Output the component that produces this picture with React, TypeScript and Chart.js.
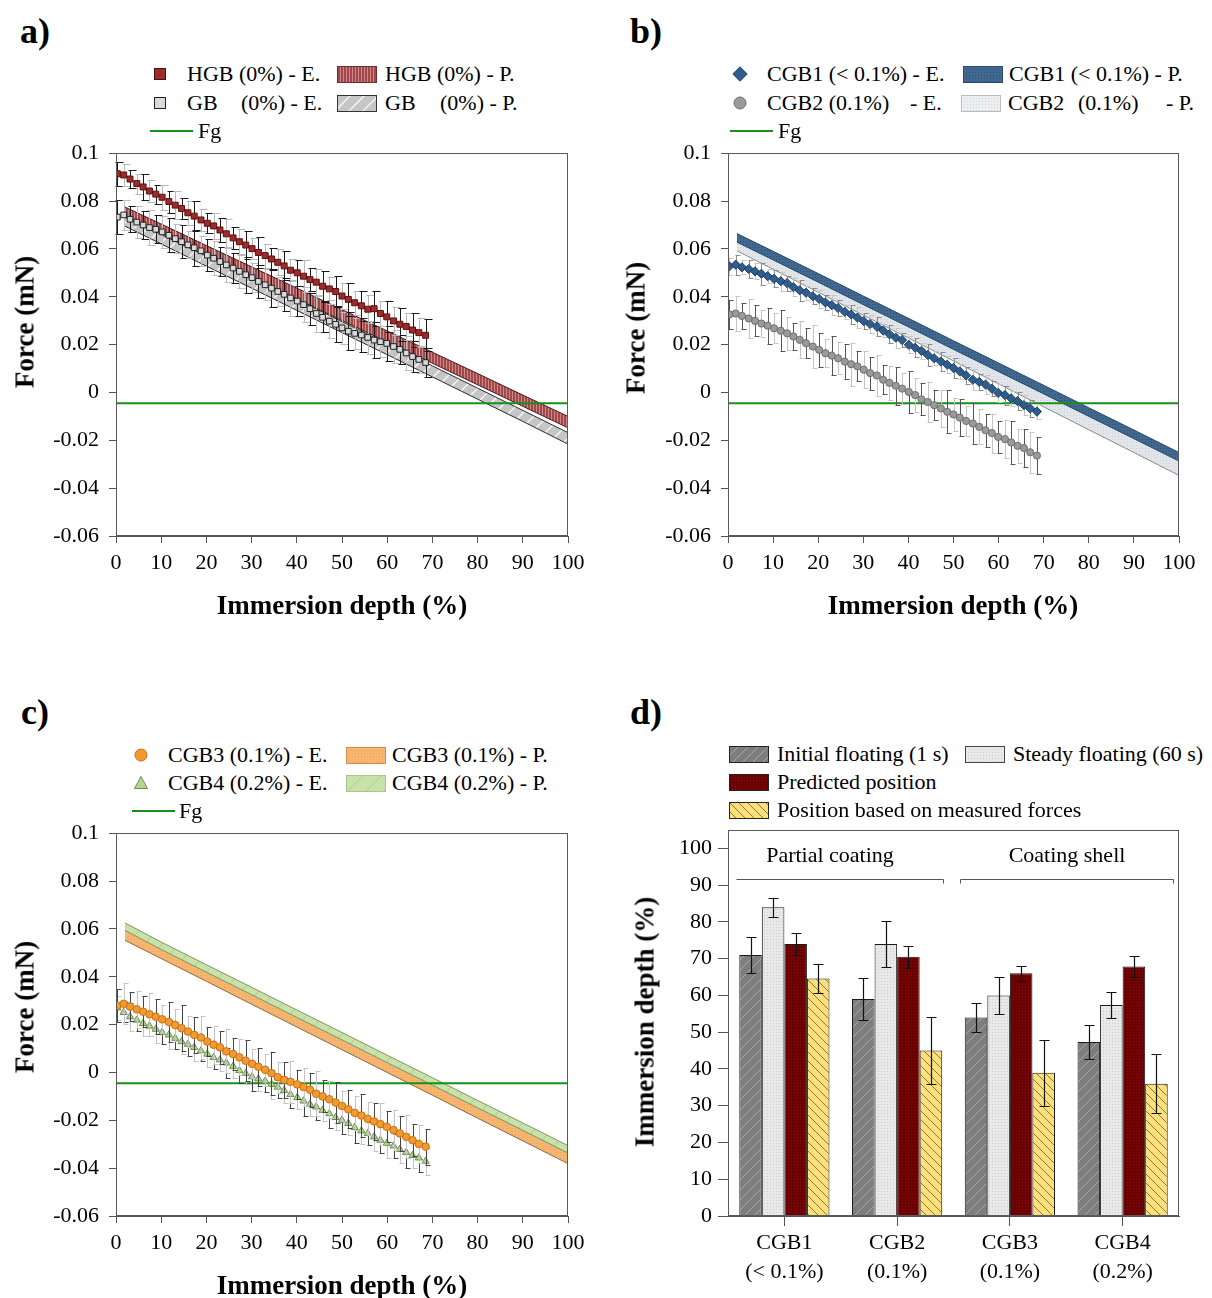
import React, { useEffect, useRef } from 'react';
import { Chart, registerables } from 'chart.js';
Chart.register(...registerables);

const FONT = "'Liberation Serif', 'Times New Roman', serif";

// ---------- Panels a, b, c: experimental points (immersion depth, %) ----------
const DEPTH = [0.3, 1.7, 3.1, 4.6, 6.0, 7.4, 8.8, 10.2, 11.7, 13.1, 14.5, 15.9, 17.3, 18.8, 20.2, 21.6, 23.0, 24.4, 25.9, 27.3, 28.7, 30.1, 31.5, 33.0, 34.4, 35.8, 37.2, 38.6, 40.1, 41.5, 42.9, 44.3, 45.7, 47.2, 48.6, 50.0, 51.4, 52.8, 54.3, 55.7, 57.1, 58.5, 59.9, 61.4, 62.8, 64.2, 65.6, 67.0, 68.5];

const HGB_E = [0.0914, 0.0909, 0.0892, 0.0873, 0.0859, 0.0842, 0.0829, 0.0816, 0.0798, 0.0783, 0.0769, 0.0751, 0.0737, 0.0721, 0.0707, 0.0696, 0.0679, 0.0663, 0.0646, 0.0630, 0.0616, 0.0601, 0.0585, 0.0572, 0.0558, 0.0544, 0.0529, 0.0511, 0.0500, 0.0486, 0.0472, 0.0461, 0.0444, 0.0433, 0.0422, 0.0403, 0.0389, 0.0375, 0.0362, 0.0348, 0.0350, 0.0330, 0.0316, 0.0299, 0.0285, 0.0276, 0.0261, 0.0250, 0.0239];
const HGB_ERR = [0.0050, 0.0045, 0.0038, 0.0042, 0.0055, 0.0048, 0.0040, 0.0052, 0.0046, 0.0058, 0.0044, 0.0050, 0.0062, 0.0047, 0.0041, 0.0056, 0.0049, 0.0060, 0.0045, 0.0052, 0.0058, 0.0043, 0.0064, 0.0050, 0.0047, 0.0055, 0.0061, 0.0046, 0.0053, 0.0068, 0.0049, 0.0057, 0.0062, 0.0048, 0.0066, 0.0055, 0.0070, 0.0051, 0.0063, 0.0058, 0.0072, 0.0054, 0.0065, 0.0060, 0.0068, 0.0057, 0.0070, 0.0062, 0.0066];
const GB_E = [0.0733, 0.0742, 0.0724, 0.0712, 0.0700, 0.0689, 0.0682, 0.0671, 0.0657, 0.0643, 0.0630, 0.0617, 0.0605, 0.0592, 0.0574, 0.0561, 0.0547, 0.0533, 0.0520, 0.0506, 0.0492, 0.0480, 0.0464, 0.0450, 0.0436, 0.0422, 0.0410, 0.0395, 0.0382, 0.0367, 0.0350, 0.0330, 0.0314, 0.0298, 0.0285, 0.0270, 0.0256, 0.0247, 0.0240, 0.0230, 0.0219, 0.0212, 0.0205, 0.0192, 0.0180, 0.0165, 0.0150, 0.0138, 0.0125];
const GB_ERR = [0.0070, 0.0062, 0.0055, 0.0068, 0.0060, 0.0074, 0.0058, 0.0066, 0.0072, 0.0061, 0.0069, 0.0057, 0.0075, 0.0063, 0.0067, 0.0071, 0.0059, 0.0073, 0.0064, 0.0068, 0.0076, 0.0060, 0.0070, 0.0065, 0.0078, 0.0062, 0.0069, 0.0074, 0.0061, 0.0072, 0.0067, 0.0079, 0.0063, 0.0070, 0.0075, 0.0066, 0.0080, 0.0064, 0.0071, 0.0068, 0.0077, 0.0065, 0.0073, 0.0069, 0.0062, 0.0070, 0.0066, 0.0058, 0.0060];

const CGB1_E = [0.0527, 0.0534, 0.0523, 0.0516, 0.0506, 0.0496, 0.0486, 0.0475, 0.0465, 0.0457, 0.0440, 0.0427, 0.0417, 0.0402, 0.0391, 0.0376, 0.0365, 0.0353, 0.0337, 0.0326, 0.0313, 0.0298, 0.0286, 0.0275, 0.0259, 0.0243, 0.0229, 0.0219, 0.0199, 0.0187, 0.0174, 0.0157, 0.0143, 0.0129, 0.0116, 0.0102, 0.0088, 0.0071, 0.0053, 0.0044, 0.0033, 0.0016, -0.0002, -0.0011, -0.0025, -0.0036, -0.0053, -0.0067, -0.0080];
const CGB1_ERR = [0.0035, 0.0042, 0.0030, 0.0038, 0.0033, 0.0045, 0.0028, 0.0036, 0.0040, 0.0031, 0.0037, 0.0043, 0.0029, 0.0034, 0.0039, 0.0032, 0.0041, 0.0035, 0.0030, 0.0038, 0.0044, 0.0033, 0.0036, 0.0040, 0.0029, 0.0037, 0.0042, 0.0031, 0.0035, 0.0039, 0.0034, 0.0045, 0.0030, 0.0038, 0.0036, 0.0041, 0.0032, 0.0037, 0.0043, 0.0035, 0.0039, 0.0031, 0.0036, 0.0040, 0.0033, 0.0038, 0.0042, 0.0035, 0.0030];
const CGB2_E = [0.0326, 0.0330, 0.0320, 0.0309, 0.0299, 0.0288, 0.0279, 0.0268, 0.0258, 0.0247, 0.0234, 0.0220, 0.0206, 0.0192, 0.0178, 0.0164, 0.0154, 0.0143, 0.0129, 0.0118, 0.0109, 0.0095, 0.0081, 0.0071, 0.0053, 0.0040, 0.0028, 0.0016, 0.0002, -0.0011, -0.0029, -0.0040, -0.0053, -0.0067, -0.0081, -0.0092, -0.0105, -0.0119, -0.0130, -0.0144, -0.0158, -0.0170, -0.0186, -0.0195, -0.0209, -0.0223, -0.0232, -0.0250, -0.0264];
const CGB2_ERR = [0.0060, 0.0072, 0.0055, 0.0080, 0.0065, 0.0058, 0.0075, 0.0062, 0.0085, 0.0068, 0.0057, 0.0078, 0.0064, 0.0088, 0.0070, 0.0059, 0.0082, 0.0066, 0.0074, 0.0090, 0.0063, 0.0077, 0.0069, 0.0085, 0.0060, 0.0072, 0.0080, 0.0065, 0.0088, 0.0071, 0.0067, 0.0083, 0.0062, 0.0076, 0.0090, 0.0068, 0.0079, 0.0064, 0.0086, 0.0073, 0.0070, 0.0082, 0.0066, 0.0078, 0.0088, 0.0072, 0.0080, 0.0085, 0.0076];

const CGB3_E = [0.0279, 0.0287, 0.0275, 0.0264, 0.0254, 0.0243, 0.0233, 0.0222, 0.0211, 0.0198, 0.0185, 0.0171, 0.0157, 0.0146, 0.0129, 0.0116, 0.0105, 0.0088, 0.0077, 0.0063, 0.0049, 0.0036, 0.0024, 0.0011, -0.0003, -0.0020, -0.0031, -0.0039, -0.0050, -0.0061, -0.0072, -0.0089, -0.0100, -0.0112, -0.0126, -0.0140, -0.0154, -0.0169, -0.0180, -0.0194, -0.0205, -0.0216, -0.0227, -0.0241, -0.0255, -0.0269, -0.0283, -0.0299, -0.0310];
const CGB3_ERR = [0.0070, 0.0085, 0.0060, 0.0078, 0.0065, 0.0090, 0.0072, 0.0058, 0.0082, 0.0068, 0.0095, 0.0063, 0.0076, 0.0088, 0.0061, 0.0080, 0.0070, 0.0092, 0.0066, 0.0075, 0.0085, 0.0060, 0.0079, 0.0068, 0.0090, 0.0064, 0.0074, 0.0087, 0.0062, 0.0081, 0.0071, 0.0094, 0.0067, 0.0078, 0.0086, 0.0063, 0.0080, 0.0072, 0.0091, 0.0069, 0.0077, 0.0088, 0.0065, 0.0083, 0.0074, 0.0090, 0.0068, 0.0080, 0.0075];
const CGB4_E = [0.0270, 0.0251, 0.0233, 0.0219, 0.0205, 0.0194, 0.0181, 0.0168, 0.0157, 0.0143, 0.0129, 0.0118, 0.0105, 0.0091, 0.0077, 0.0063, 0.0053, 0.0040, 0.0026, 0.0008, -0.0004, -0.0018, -0.0027, -0.0036, -0.0050, -0.0061, -0.0075, -0.0092, -0.0105, -0.0119, -0.0133, -0.0144, -0.0158, -0.0172, -0.0188, -0.0199, -0.0213, -0.0230, -0.0244, -0.0255, -0.0269, -0.0283, -0.0296, -0.0307, -0.0321, -0.0334, -0.0347, -0.0357, -0.0371];
const CGB4_ERR = [0.0050, 0.0042, 0.0058, 0.0045, 0.0053, 0.0040, 0.0056, 0.0047, 0.0061, 0.0044, 0.0052, 0.0048, 0.0059, 0.0043, 0.0055, 0.0050, 0.0046, 0.0062, 0.0049, 0.0054, 0.0045, 0.0058, 0.0051, 0.0047, 0.0060, 0.0044, 0.0053, 0.0057, 0.0048, 0.0063, 0.0050, 0.0055, 0.0046, 0.0061, 0.0052, 0.0058, 0.0047, 0.0064, 0.0053, 0.0049, 0.0060, 0.0055, 0.0062, 0.0051, 0.0058, 0.0065, 0.0054, 0.0060, 0.0057];

// ---------- Predicted bands (upper / lower edge) ----------
const PRED_X = [2, 10, 20, 30, 40, 50, 60, 70, 80, 90, 100];
const HGB_P_HI = [0.0775, 0.0704, 0.0614, 0.0525, 0.0436, 0.0346, 0.0257, 0.0168, 0.0079, -0.0011, -0.0100];
const HGB_P_LO = [0.0733, 0.0660, 0.0570, 0.0480, 0.0391, 0.0301, 0.0211, 0.0122, 0.0032, -0.0058, -0.0148];
const GB_P_HI = [0.0741, 0.0667, 0.0574, 0.0482, 0.0389, 0.0296, 0.0204, 0.0111, 0.0018, -0.0075, -0.0168];
const GB_P_LO = [0.0695, 0.0621, 0.0528, 0.0436, 0.0343, 0.0250, 0.0158, 0.0065, -0.0028, -0.0121, -0.0216];
const CGB1_P_HI = [0.0664, 0.0590, 0.0497, 0.0403, 0.0310, 0.0216, 0.0123, 0.0030, -0.0064, -0.0157, -0.0251];
const CGB1_P_LO = [0.0628, 0.0554, 0.0461, 0.0367, 0.0274, 0.0180, 0.0087, -0.0006, -0.0100, -0.0193, -0.0287];
const CGB2_P_HI = [0.0640, 0.0565, 0.0472, 0.0379, 0.0285, 0.0192, 0.0098, 0.0005, -0.0088, -0.0182, -0.0275];
const CGB2_P_LO = [0.0592, 0.0515, 0.0419, 0.0323, 0.0228, 0.0132, 0.0036, -0.0060, -0.0156, -0.0251, -0.0347];
const CGB3_P_HI = [0.0600, 0.0524, 0.0429, 0.0333, 0.0238, 0.0143, 0.0048, -0.0047, -0.0143, -0.0238, -0.0333];
const CGB3_P_LO = [0.0552, 0.0476, 0.0381, 0.0285, 0.0190, 0.0095, 0.0000, -0.0095, -0.0191, -0.0286, -0.0381];
const CGB4_P_HI = [0.0625, 0.0545, 0.0450, 0.0356, 0.0261, 0.0167, 0.0072, -0.0022, -0.0117, -0.0211, -0.0306];
const CGB4_P_LO = [0.0594, 0.0514, 0.0419, 0.0325, 0.0230, 0.0136, 0.0041, -0.0053, -0.0148, -0.0242, -0.0337];

const FG_X = [0, 100];
const FG_LEVEL = -0.0045;

// ---------- Panel d ----------
const GROUPS = ['CGB1', 'CGB2', 'CGB3', 'CGB4'];
const GROUP_PCT = ['(< 0.1%)', '(0.1%)', '(0.1%)', '(0.2%)'];
const INITIAL = [71, 59, 54, 47.3];
const INITIAL_ERR = [5, 5.8, 4, 4.7];
const STEADY = [84, 74, 60, 57.4];
const STEADY_ERR = [2.6, 6.2, 5, 3.6];
const PREDICTED = [74, 70.5, 66, 67.9];
const PREDICTED_ERR = [3, 3, 2, 2.9];
const MEASURED = [64.6, 45, 39, 36];
const MEASURED_ERR = [4, 9.2, 9, 8.1];
const D_TICKS = [0, 10, 20, 30, 40, 50, 60, 70, 80, 90, 100];
const BRACKET_LEVEL = 91.8;

// ---------- helpers ----------
type Draw = (c: CanvasRenderingContext2D, s: number) => void;
function pat(ctx: CanvasRenderingContext2D, size: number, bg: string, draw?: Draw) {
  const cv = document.createElement('canvas');
  cv.width = size; cv.height = size;
  const c = cv.getContext('2d')!;
  c.fillStyle = bg; c.fillRect(0, 0, size, size);
  if (draw) draw(c, size);
  return ctx.createPattern(cv, 'repeat') as any;
}
const diagUp = (color: string, w: number): Draw => (c, s) => {
  c.strokeStyle = color; c.lineWidth = w; c.beginPath();
  for (const k of [-s, 0, s]) { c.moveTo(k, s); c.lineTo(k + s, 0); }
  c.stroke();
};
const diagDown = (color: string, w: number): Draw => (c, s) => {
  c.strokeStyle = color; c.lineWidth = w; c.beginPath();
  for (const k of [-s, 0, s]) { c.moveTo(k, 0); c.lineTo(k + s, s); }
  c.stroke();
};
const dots = (color: string): Draw => (c) => { c.fillStyle = color; c.fillRect(0, 0, 1, 1); };
const vlines = (color: string): Draw => (c, s) => { c.fillStyle = color; c.fillRect(0, 0, 1, s); };

const pts = (xs: number[], ys: number[]) => xs.map((x, i) => ({ x, y: ys[i] }));

function band(hi: number[], lo: number[], fill: any, border: string, order: number) {
  return [
    { data: pts(PRED_X, hi), borderColor: border, borderWidth: 1, pointRadius: 0, fill: false, order, tension: 0 },
    { data: pts(PRED_X, lo), borderColor: border, borderWidth: 1, pointRadius: 0, fill: '-1', backgroundColor: fill, order: order + 1, tension: 0 },
  ];
}
function fgLine(order: number) {
  return { data: pts(FG_X, [FG_LEVEL, FG_LEVEL]), borderColor: '#169016', borderWidth: 2, pointRadius: 0, fill: false, order };
}
function expDs(ys: number[], errs: number[], shape: string, r: number, fill: string, stroke: string, errColors: string[], order: number, capL: number, capR: number) {
  return {
    data: pts(DEPTH, ys), showLine: false, pointStyle: shape, pointRadius: r,
    pointBackgroundColor: fill, pointBorderColor: stroke, pointBorderWidth: 1,
    errs, errColors, capL, capR, order,
  };
}

const errPlugin = {
  id: 'errbars',
  beforeDatasetDraw(chart: any, args: any) {
    const ds = chart.data.datasets[args.index];
    if (!ds.errs || ds.errAfter) return;
    drawErr(chart, args.meta, ds);
  },
  afterDatasetDraw(chart: any, args: any) {
    const ds = chart.data.datasets[args.index];
    if (!ds.errs || !ds.errAfter) return;
    drawErr(chart, args.meta, ds);
  },
};
function drawErr(chart: any, meta: any, ds: any) {
  const ys = chart.scales.y;
  const c = chart.ctx as CanvasRenderingContext2D;
  c.save();
  c.lineWidth = ds.errWidth || 1;
  meta.data.forEach((el: any, i: number) => {
    const e = ds.errs[i];
    const v = meta.controller.getParsed(i).y;
    const x = Math.round(el.x) + 0.5;
    const y1 = Math.round(ys.getPixelForValue(v + e)) + 0.5;
    const y2 = Math.round(ys.getPixelForValue(v - e)) + 0.5;
    c.strokeStyle = ds.errColors[i % ds.errColors.length];
    c.beginPath();
    c.moveTo(x, y1); c.lineTo(x, y2);
    c.moveTo(x - ds.capL, y1); c.lineTo(x + ds.capR, y1);
    c.moveTo(x - ds.capL, y2); c.lineTo(x + ds.capR, y2);
    c.stroke();
  });
  c.restore();
}

const framePlugin = {
  id: 'frame',
  afterDatasetsDraw(chart: any) {
    const { left, top, right, bottom } = chart.chartArea;
    const c = chart.ctx as CanvasRenderingContext2D;
    c.save();
    c.strokeStyle = '#5a5a5a';
    c.lineWidth = 1;
    c.strokeRect(Math.round(left) + 0.5, Math.round(top) + 0.5, Math.round(right - left) - 1, Math.round(bottom - top) - 1);
    c.restore();
  },
};

const bracketPlugin = {
  id: 'brackets',
  afterDatasetsDraw(chart: any) {
    const xs = chart.scales.x, ys = chart.scales.y;
    const c = chart.ctx as CanvasRenderingContext2D;
    const yb = Math.round(ys.getPixelForValue(BRACKET_LEVEL)) + 0.5;
    c.save();
    c.strokeStyle = '#555';
    c.lineWidth = 1;
    const a0 = Math.round(xs.getPixelForValue(0) - 48) + 0.5, a1 = Math.round(xs.getPixelForValue(1) + 46) + 0.5;
    const b0 = Math.round(xs.getPixelForValue(2) - 50) + 0.5, b1 = Math.round(xs.getPixelForValue(3) + 50) + 0.5;
    c.beginPath();
    c.moveTo(a0, yb); c.lineTo(a1, yb); c.lineTo(a1, yb + 4);
    c.moveTo(b0, yb + 4); c.lineTo(b0, yb); c.lineTo(b1, yb); c.lineTo(b1, yb + 4);
    c.stroke();
    c.restore();
  },
};

type Geo = { padTop: number; padRight: number; yW: number; xH: number };
const tickFont = { family: FONT, size: 22 };

function forceOptions(g: Geo) {
  const grid = { drawOnChartArea: false, tickLength: 7, color: '#555' };
  return {
    responsive: false, animation: false as const, events: [],
    layout: { padding: { left: 0, top: g.padTop, right: g.padRight, bottom: 0 } },
    plugins: { legend: { display: false }, tooltip: { enabled: false } },
    scales: {
      x: {
        type: 'linear', min: 0, max: 100,
        ticks: { stepSize: 10, font: tickFont, color: '#000', padding: 7, maxRotation: 0, autoSkip: false },
        grid, border: { color: '#555' },
        afterFit: (s: any) => { s.height = g.xH; },
      },
      y: {
        type: 'linear', min: -0.06, max: 0.1,
        ticks: { stepSize: 0.02, font: tickFont, color: '#000', padding: 10, autoSkip: false, callback: (v: any) => String(Math.round(v * 100) / 100) },
        grid, border: { color: '#555' },
        afterFit: (s: any) => { s.width = g.yW; },
      },
    },
  };
}

const GEO_A: Geo = { padTop: 20, padRight: 32, yW: 108, xH: 64 };
const GEO_B: Geo = { padTop: 20, padRight: 25, yW: 108, xH: 64 };
const GEO_D: Geo = { padTop: 20, padRight: 25, yW: 108, xH: 82 };

function buildA(ctx: CanvasRenderingContext2D): any {
  const hgb = pat(ctx, 3, '#a4474a', vlines('#c98a8a'));
  const gb = pat(ctx, 14, '#c6c6c6', diagUp('#f4f4f4', 1.5));
  return {
    type: 'line',
    data: {
      datasets: [
        ...band(GB_P_HI, GB_P_LO, gb, '#2a2a2a', 20),
        ...band(HGB_P_HI, HGB_P_LO, hgb, '#4a1a1a', 16),
        fgLine(12),
        expDs(GB_E, GB_ERR, 'rect', 4, '#d9d9d9', '#222', ['#1a1a1a', '#bdbdbd'], 8, 2, 6),
        expDs(HGB_E, HGB_ERR, 'rect', 4.2, '#9e2a2b', '#5a1010', ['#1a1a1a', '#b8b8b8'], 4, 2, 6),
      ],
    },
    options: forceOptions(GEO_A),
    plugins: [errPlugin, framePlugin],
  };
}
function buildB(ctx: CanvasRenderingContext2D): any {
  const c1 = pat(ctx, 3, '#41698f', dots('#2c4f75'));
  const c2 = pat(ctx, 3, '#e2e6eb', dots('#cbd2da'));
  return {
    type: 'line',
    data: {
      datasets: [
        ...band(CGB2_P_HI, CGB2_P_LO, c2, '#8a8a8a', 20),
        ...band(CGB1_P_HI, CGB1_P_LO, c1, '#2a4a70', 16),
        fgLine(12),
        expDs(CGB2_E, CGB2_ERR, 'circle', 3.6, '#9a9a9a', '#6e6e6e', ['#555', '#c4c4c4'], 8, 1, 4),
        expDs(CGB1_E, CGB1_ERR, 'rectRot', 4.6, '#2f5d8d', '#1c3f66', ['#c4c4c4', '#8a8a8a'], 4, 1, 4),
      ],
    },
    options: forceOptions(GEO_B),
    plugins: [errPlugin, framePlugin],
  };
}
function buildC(ctx: CanvasRenderingContext2D): any {
  const c3 = pat(ctx, 3, '#f6b672', dots('#efa557'));
  const c4 = pat(ctx, 18, '#c9e1ab', diagUp('#aacb8c', 1));
  return {
    type: 'line',
    data: {
      datasets: [
        ...band(CGB3_P_HI, CGB3_P_LO, c3, '#8a6a40', 20),
        ...band(CGB4_P_HI, CGB4_P_LO, c4, '#7a9a5a', 16),
        fgLine(12),
        expDs(CGB4_E, CGB4_ERR, 'triangle', 4.2, '#b7d592', '#6d8d52', ['#c4c4c4', '#444'], 8, 1, 4),
        expDs(CGB3_E, CGB3_ERR, 'circle', 3.8, '#f39a2e', '#c46f18', ['#444', '#c4c4c4'], 4, 1, 4),
      ],
    },
    options: forceOptions(GEO_A),
    plugins: [errPlugin, framePlugin],
  };
}
function buildD(ctx: CanvasRenderingContext2D): any {
  const pInit = pat(ctx, 10, '#7d7d7d', diagUp('#a9a9a9', 1));
  const pSteady = pat(ctx, 3, '#e9e9e9', dots('#cbcbcb'));
  const pPred = pat(ctx, 3, '#6c0000', dots('#7d1010'));
  const pMeas = pat(ctx, 9, '#fde07c', diagDown('#8c7a3c', 1));
  const bar = (data: number[], errs: number[], fill: any) => ({
    data, errs, errColors: ['#111'], capL: 5, capR: 5, errAfter: true, errWidth: 1.2,
    backgroundColor: fill, borderColor: '#1a1a1a', borderWidth: 1,
    barPercentage: 1, categoryPercentage: 0.8,
  });
  const grid = { drawOnChartArea: false, tickLength: 10, color: '#555', offset: false };
  return {
    type: 'bar',
    data: {
      labels: GROUPS.map((g, i) => [g, GROUP_PCT[i]]),
      datasets: [
        bar(INITIAL, INITIAL_ERR, pInit),
        bar(STEADY, STEADY_ERR, pSteady),
        bar(PREDICTED, PREDICTED_ERR, pPred),
        bar(MEASURED, MEASURED_ERR, pMeas),
      ],
    },
    options: {
      responsive: false, animation: false, events: [],
      layout: { padding: { left: 0, top: GEO_D.padTop, right: GEO_D.padRight, bottom: 0 } },
      plugins: { legend: { display: false }, tooltip: { enabled: false } },
      scales: {
        x: {
          type: 'category', offset: true,
          ticks: { font: { family: FONT, size: 22, lineHeight: 1.32 }, color: '#000', padding: 3, maxRotation: 0, autoSkip: false },
          grid, border: { color: '#555' },
          afterFit: (s: any) => { s.height = GEO_D.xH; },
        },
        y: {
          type: 'linear', min: 0, max: 105,
          ticks: { font: tickFont, color: '#000', padding: 6, autoSkip: false },
          afterBuildTicks: (s: any) => { s.ticks = D_TICKS.map((value) => ({ value })); },
          grid, border: { color: '#555' },
          afterFit: (s: any) => { s.width = GEO_D.yW; },
        },
      },
    },
    plugins: [errPlugin, framePlugin, bracketPlugin],
  };
}

function ChartCanvas({ x, y, w, h, build }: { x: number; y: number; w: number; h: number; build: (c: CanvasRenderingContext2D) => any }) {
  const ref = useRef<HTMLCanvasElement>(null);
  useEffect(() => {
    const ctx = ref.current!.getContext('2d')!;
    const chart = new Chart(ctx, build(ctx));
    return () => chart.destroy();
  }, []);
  return <canvas ref={ref} width={w} height={h} style={{ position: 'absolute', left: x, top: y, width: w, height: h, display: 'block' }} />;
}

function Txt({ x, y, size = 22, bold = false, mid = false, rot = 0, children }: any) {
  return (
    <div style={{
      position: 'absolute', left: x, top: y, fontSize: size, fontWeight: bold ? 700 : 400,
      lineHeight: 1, whiteSpace: 'pre', color: '#000',
      transform: `translate(${mid ? '-50%' : '0'}, -50%) rotate(${rot}deg)`,
    }}>{children}</div>
  );
}

function Swatch({ x, y, fill, stroke = '#555' }: any) {
  return (
    <svg width={40} height={17} style={{ position: 'absolute', left: x, top: y - 8.5 }}>
      <rect x={0.5} y={0.5} width={39} height={16} fill={fill} stroke={stroke} strokeWidth={1} />
    </svg>
  );
}
function Marker({ x, y, shape, fill, stroke }: any) {
  const s = 16;
  let el: any = null;
  if (shape === 'square') el = <rect x={2.5} y={2.5} width={11} height={11} fill={fill} stroke={stroke} />;
  if (shape === 'diamond') el = <polygon points="8,0.8 15.2,8 8,15.2 0.8,8" fill={fill} stroke={stroke} />;
  if (shape === 'circle') el = <circle cx={8} cy={8} r={6} fill={fill} stroke={stroke} />;
  if (shape === 'triangle') el = <polygon points="8,1.5 14.5,13.5 1.5,13.5" fill={fill} stroke={stroke} />;
  return <svg width={s} height={s} style={{ position: 'absolute', left: x - s / 2, top: y - s / 2 }}>{el}</svg>;
}
function FgKey({ x0, x1, y, tx }: any) {
  return (
    <>
      <div style={{ position: 'absolute', left: x0, top: y - 1, width: x1 - x0, height: 2, background: '#169016' }} />
      <Txt x={tx} y={y}>Fg</Txt>
    </>
  );
}

export default function App() {
  return (
    <div style={{ position: 'fixed', left: 0, top: 0, width: 1212, height: 1298, overflow: 'hidden', background: '#fff', fontFamily: FONT }}>
      <svg width={0} height={0} style={{ position: 'absolute' }}>
        <defs>
          <pattern id="sw-hgb" width="3" height="3" patternUnits="userSpaceOnUse"><rect width="3" height="3" fill="#a4474a" /><rect width="1" height="3" fill="#c98a8a" /></pattern>
          <pattern id="sw-gb" width="14" height="14" patternUnits="userSpaceOnUse"><rect width="14" height="14" fill="#c6c6c6" /><path d="M-14,14 L0,0 M0,14 L14,0 M14,14 L28,0" stroke="#f4f4f4" strokeWidth="1.5" /></pattern>
          <pattern id="sw-c1" width="3" height="3" patternUnits="userSpaceOnUse"><rect width="3" height="3" fill="#41698f" /><rect width="1" height="1" fill="#2c4f75" /></pattern>
          <pattern id="sw-c2" width="3" height="3" patternUnits="userSpaceOnUse"><rect width="3" height="3" fill="#eceef0" /><rect width="1" height="1" fill="#d2d6db" /></pattern>
          <pattern id="sw-c3" width="3" height="3" patternUnits="userSpaceOnUse"><rect width="3" height="3" fill="#f6b672" /><rect width="1" height="1" fill="#efa557" /></pattern>
          <pattern id="sw-c4" width="18" height="18" patternUnits="userSpaceOnUse"><rect width="18" height="18" fill="#c9e1ab" /><path d="M-18,18 L0,0 M0,18 L18,0 M18,18 L36,0" stroke="#aacb8c" strokeWidth="1" /></pattern>
          <pattern id="sw-init" width="10" height="10" patternUnits="userSpaceOnUse"><rect width="10" height="10" fill="#7d7d7d" /><path d="M-10,10 L0,0 M0,10 L10,0 M10,10 L20,0" stroke="#a9a9a9" strokeWidth="1" /></pattern>
          <pattern id="sw-steady" width="3" height="3" patternUnits="userSpaceOnUse"><rect width="3" height="3" fill="#e9e9e9" /><rect width="1" height="1" fill="#cbcbcb" /></pattern>
          <pattern id="sw-pred" width="3" height="3" patternUnits="userSpaceOnUse"><rect width="3" height="3" fill="#6c0000" /><rect width="1" height="1" fill="#7d1010" /></pattern>
          <pattern id="sw-meas" width="9" height="9" patternUnits="userSpaceOnUse"><rect width="9" height="9" fill="#fde07c" /><path d="M-9,0 L0,9 M0,0 L9,9 M9,0 L18,9" stroke="#8c7a3c" strokeWidth="1" /></pattern>
        </defs>
      </svg>

      <ChartCanvas x={8} y={130} w={592} h={470} build={buildA} />
      <ChartCanvas x={620} y={130} w={584} h={470} build={buildB} />
      <ChartCanvas x={8} y={810} w={592} h={470} build={buildC} />
      <ChartCanvas x={620} y={810} w={584} h={488} build={buildD} />

      {/* Panel labels */}
      <Txt x={35} y={31} size={36} bold mid>a)</Txt>
      <Txt x={646} y={31} size={36} bold mid>b)</Txt>
      <Txt x={35} y={712} size={36} bold mid>c)</Txt>
      <Txt x={646} y={712} size={36} bold mid>d)</Txt>

      {/* Axis titles */}
      <Txt x={25} y={322} size={27} bold mid rot={-90}>Force (mN)</Txt>
      <Txt x={342} y={605} size={27} bold mid>Immersion depth (%)</Txt>
      <Txt x={636} y={328} size={27} bold mid rot={-90}>Force (mN)</Txt>
      <Txt x={953} y={605} size={27} bold mid>Immersion depth (%)</Txt>
      <Txt x={25} y={1007} size={27} bold mid rot={-90}>Force (mN)</Txt>
      <Txt x={342} y={1285} size={27} bold mid>Immersion depth (%)</Txt>
      <Txt x={645} y={1022} size={27} bold mid rot={-90}>Immersion depth (%)</Txt>

      {/* Legend a */}
      <Marker x={160} y={74} shape="square" fill="#9e2a2b" stroke="#4a0f0f" />
      <Txt x={187} y={74}>HGB (0%) - E.</Txt>
      <Swatch x={337} y={74} fill="url(#sw-hgb)" stroke="#6a3030" />
      <Txt x={385} y={74}>HGB (0%) - P.</Txt>
      <Marker x={160} y={103} shape="square" fill="#d9d9d9" stroke="#222" />
      <Txt x={187} y={103}>GB</Txt>
      <Txt x={241} y={103}>(0%) - E.</Txt>
      <Swatch x={337} y={103} fill="url(#sw-gb)" stroke="#333" />
      <Txt x={385} y={103}>GB</Txt>
      <Txt x={440} y={103}>(0%) - P.</Txt>
      <FgKey x0={150} x1={193} y={131} tx={198} />

      {/* Legend b */}
      <Marker x={740} y={74} shape="diamond" fill="#2f5d8d" stroke="#1c3f66" />
      <Txt x={767} y={74}>CGB1 (&lt; 0.1%) - E.</Txt>
      <Swatch x={963} y={74} fill="url(#sw-c1)" stroke="#2a4a70" />
      <Txt x={1009} y={74}>CGB1 (&lt; 0.1%) - P.</Txt>
      <Marker x={740} y={103} shape="circle" fill="#9a9a9a" stroke="#6e6e6e" />
      <Txt x={767} y={103}>CGB2 (0.1%)</Txt>
      <Txt x={910} y={103}>- E.</Txt>
      <Swatch x={961} y={103} fill="url(#sw-c2)" stroke="#bbb" />
      <Txt x={1008} y={103}>CGB2</Txt>
      <Txt x={1078} y={103}>(0.1%)</Txt>
      <Txt x={1166} y={103}>- P.</Txt>
      <FgKey x0={730} x1={773} y={131} tx={778} />

      {/* Legend c */}
      <Marker x={141} y={755} shape="circle" fill="#f39a2e" stroke="#c46f18" />
      <Txt x={168} y={755}>CGB3 (0.1%) - E.</Txt>
      <Swatch x={346} y={755} fill="url(#sw-c3)" stroke="#d09050" />
      <Txt x={392} y={755}>CGB3 (0.1%) - P.</Txt>
      <Marker x={141} y={783} shape="triangle" fill="#b7d592" stroke="#6d8d52" />
      <Txt x={168} y={783}>CGB4 (0.2%) - E.</Txt>
      <Swatch x={346} y={783} fill="url(#sw-c4)" stroke="#a8c888" />
      <Txt x={392} y={783}>CGB4 (0.2%) - P.</Txt>
      <FgKey x0={132} x1={175} y={811} tx={179} />

      {/* Legend d */}
      <Swatch x={729} y={754} fill="url(#sw-init)" stroke="#222" />
      <Txt x={777} y={754}>Initial floating (1 s)</Txt>
      <Swatch x={965} y={754} fill="url(#sw-steady)" stroke="#444" />
      <Txt x={1013} y={754}>Steady floating (60 s)</Txt>
      <Swatch x={729} y={782} fill="url(#sw-pred)" stroke="#222" />
      <Txt x={777} y={782}>Predicted position</Txt>
      <Swatch x={729} y={810} fill="url(#sw-meas)" stroke="#222" />
      <Txt x={777} y={810}>Position based on measured forces</Txt>

      {/* Panel d group annotations */}
      <Txt x={830} y={855} mid>Partial coating</Txt>
      <Txt x={1067} y={855} mid>Coating shell</Txt>
    </div>
  );
}
